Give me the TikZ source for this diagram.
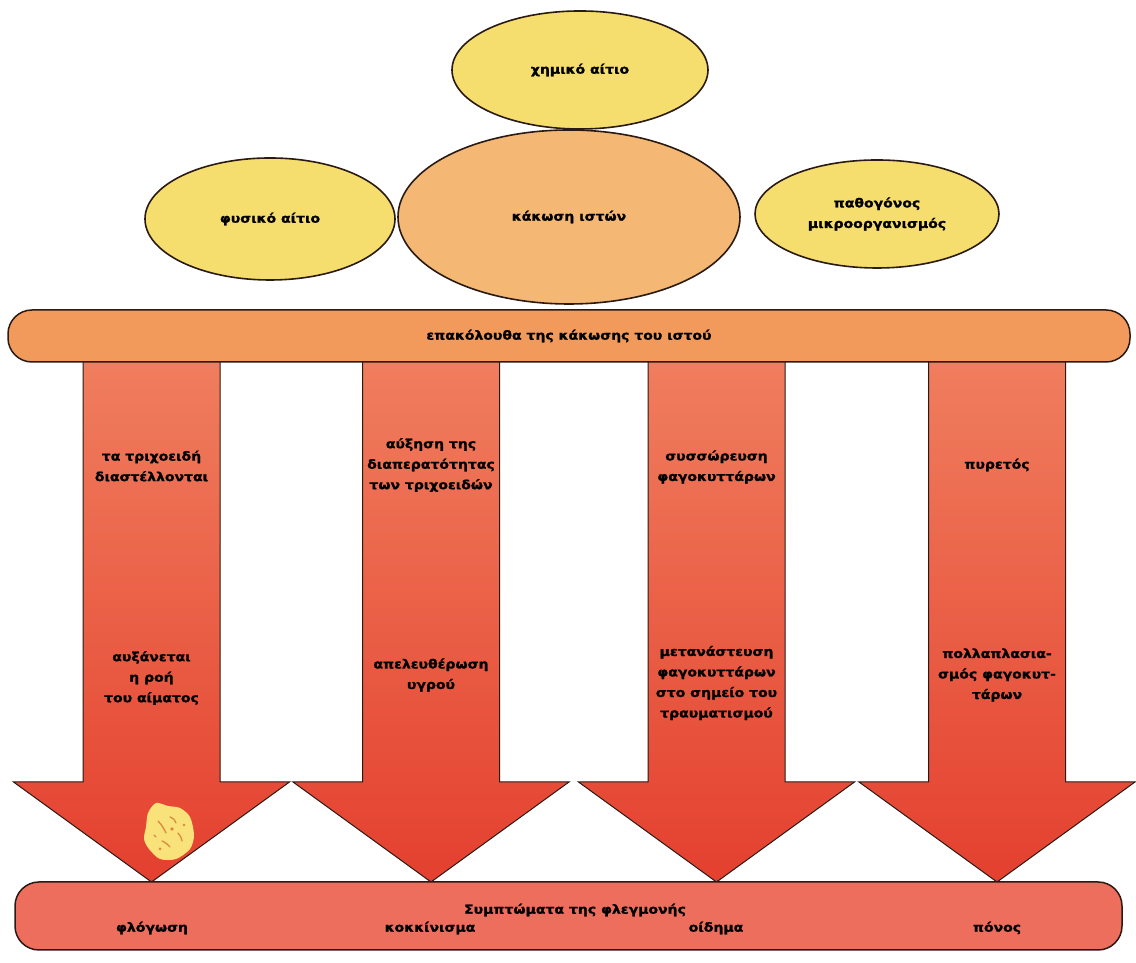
\documentclass[tikz,border=0pt]{standalone}
\usepackage{fontspec}
\newfontfamily\lbl[FakeStretch=1.12,FakeBold=1.2]{DejaVu Sans}
\usetikzlibrary{shapes.geometric,calc}

\definecolor{ovalyellow}{HTML}{F6DE6E}
\definecolor{ovalpeach}{HTML}{F5B874}
\definecolor{barorange}{HTML}{F19A5C}
\definecolor{barred}{HTML}{EE6E5E}
\definecolor{arrowtop}{HTML}{F07E5E}
\definecolor{arrowbot}{HTML}{E4402F}
\definecolor{edgedark}{HTML}{2A1A14}
\definecolor{cellyellow}{HTML}{F9E27A}
\definecolor{cellspeck}{HTML}{D98A3A}

\tikzset{
  txt/.style={font=\lbl\bfseries\fontsize{12.5}{20.5}\selectfont, align=center, text=black},
  oval/.style={ellipse, draw=edgedark, line width=1.6pt, inner sep=0pt, txt},
  bar/.style={rectangle, draw=edgedark, line width=1.5pt, rounded corners=24pt, inner sep=0pt, txt},
  blockarrow/.style={draw=edgedark, line width=1pt, top color=arrowtop, bottom color=arrowbot},
}

\begin{document}
\begin{tikzpicture}[x=1pt,y=1pt]
\useasboundingbox (0,0) rectangle (1136,963);
\fill[white] (0,0) rectangle (1136,963);

% the four downward block arrows (shaft centre x, named)
\foreach \cx/\nm in {151.5/a1, 431/a2, 716.5/a3, 997/a4}{
  \coordinate (\nm-top) at (\cx,605);
  \coordinate (\nm-tip) at (\cx,81);
  \path[blockarrow]
    ($(\nm-top)+(-68.5,0)$) -- ($(\nm-top)+(68.5,0)$)
    -- (\cx+68.5,181) -- (\cx+138,181) -- (\nm-tip)
    -- (\cx-138,181) -- (\cx-68.5,181) -- cycle;
}

% small yellow cell in the first arrow head
\fill[cellyellow]
  plot[smooth cycle] coordinates {(146,136) (148,150) (156,160) (168,157) (180,155) (190,146) (194,128) (190,114) (176,104) (160,104) (149,114) (144,124)};
\draw[cellspeck, line width=1.3pt, line cap=round]
  (158,142) .. controls (162,138) and (164,134) .. (166,130)
  (170,146) .. controls (174,144) .. (176,140)
  (162,122) .. controls (166,120) .. (170,116)
  (178,130) .. controls (181,126) .. (182,122)
  (154,128) -- (156,126);
\fill[cellspeck] (172,134) circle (1.8) (160,114) circle (1.5) (184,138) circle (1.4);

% cause ellipses
\node[oval, fill=ovalyellow, minimum width=250, minimum height=122] (phys) at (270,744) {φυσικό αίτιο};
\node[oval, fill=ovalyellow, minimum width=244, minimum height=108] (patho) at (877,749) {παθογόνος\\μικροοργανισμός};
\node[oval, fill=ovalyellow, minimum width=256, minimum height=118] (chem) at (580,893) {χημικό αίτιο};
\node[oval, fill=ovalpeach, minimum width=342, minimum height=174] (injury) at (569,746) {κάκωση ιστών};

% top bar
\node[bar, fill=barorange, minimum width=1122, minimum height=52] (effects) at (569,627) {επακόλουθα της κάκωσης του ιστού};

% bottom bar
\node[bar, fill=barred, minimum width=1107, minimum height=68] (symptoms) at (568.5,47) {};
\node[txt] (symtitle) at (575,53) {Συμπτώματα της φλεγμονής};
\node[txt] (s1) at (152,35) {φλόγωση};
\node[txt] (s2) at (430,35) {κοκκίνισμα};
\node[txt] (s3) at (716,35) {οίδημα};
\node[txt] (s4) at (997,35) {πόνος};

% labels inside the arrows
\node[txt] (t1a) at (151.5,497) {τα τριχοειδή\\διαστέλλονται};
\node[txt] (t2a) at (431,498) {αύξηση της\\διαπερατότητας\\των τριχοειδών};
\node[txt] (t3a) at (716.5,496) {συσσώρευση\\φαγοκυττάρων};
\node[txt] (t4a) at (997,498) {πυρετός};

\node[txt] (t1b) at (151.5,285) {αυξάνεται\\η ροή\\του αίματος};
\node[txt] (t2b) at (431,288) {απελευθέρωση\\υγρού};
\node[txt] (t3b) at (716.5,280) {μετανάστευση\\φαγοκυττάρων\\στο σημείο του\\τραυματισμού};
\node[txt] (t4b) at (997,288) {πολλαπλασια-\\σμός φαγοκυτ-\\τάρων};
\end{tikzpicture}
\end{document}
